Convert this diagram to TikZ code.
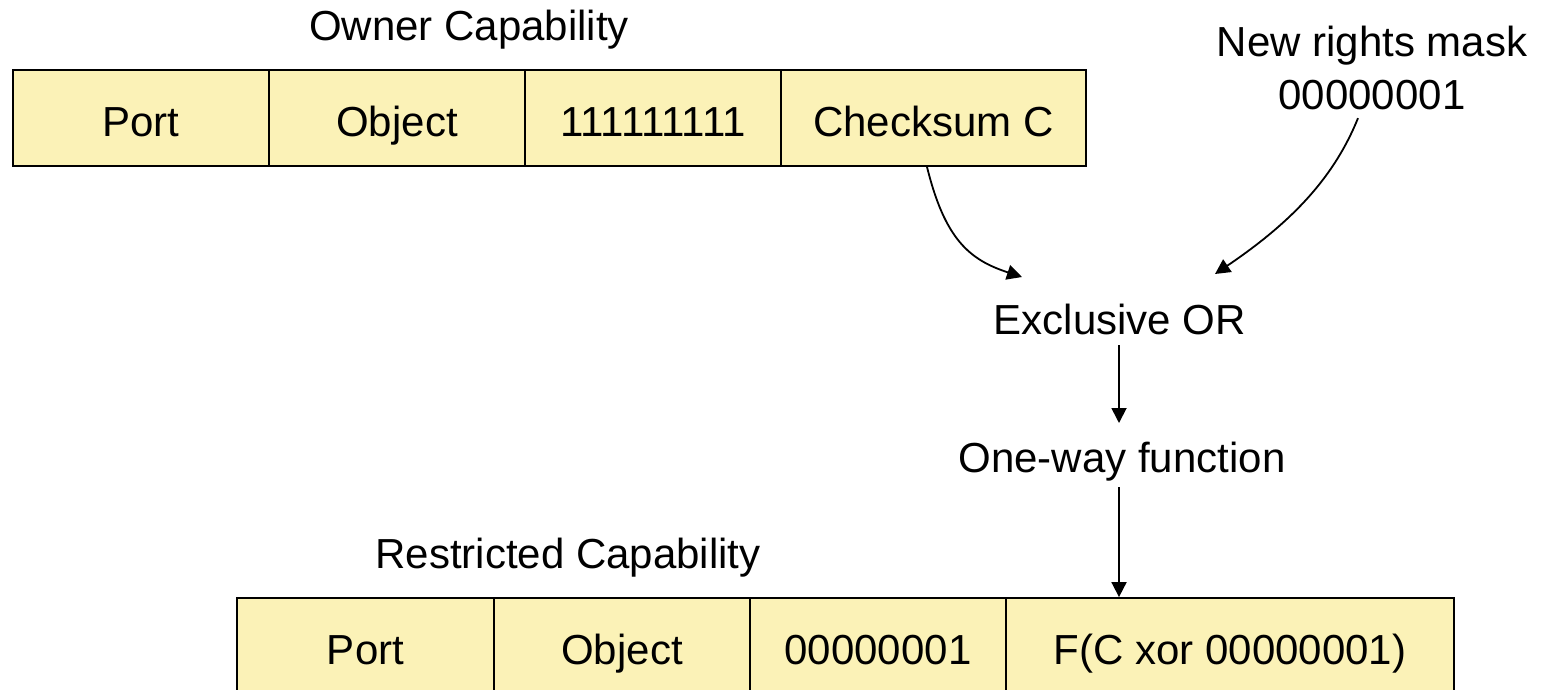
\documentclass[tikz,border=0pt]{standalone}
\usepackage{fontspec}
\setmainfont{Liberation Sans}
\usetikzlibrary{arrows.meta}
\definecolor{cellfill}{RGB}{251,242,183}
\tikzset{
  cell/.style={draw=black, fill=cellfill, line width=1.8pt, minimum height=96pt,
    inner sep=0pt, text height=36pt, text depth=0pt, font=\fontsize{42}{50}\selectfont},
  lbl/.style={inner sep=0pt, font=\fontsize{42}{50}\selectfont, align=center},
  conn/.style={line width=1.8pt, -{Triangle[length=15pt,width=15pt]}},
}
\begin{document}
\begin{tikzpicture}[x=1pt, y=1pt]
\useasboundingbox (0,0) rectangle (1546,-690);
% owner capability
\node[lbl] (ownt) at (469,-30) {Owner Capability};
\node[cell, minimum width=256pt] (op) at (141,-118) {Port};
\node[cell, minimum width=256pt] (oo) at (397,-118) {Object};
\node[cell, minimum width=256pt] (or) at (653,-118) {111111111};
\node[cell, minimum width=305pt] (oc) at (933.5,-118) {Checksum C};
% rights mask
\node[lbl] (mask) at (1372,-68) {New rights mask\\[3pt]00000001};
% processing steps
\node[lbl] (xor) at (1120,-319) {Exclusive OR};
\node[lbl] (owf) at (1122,-462) {One-way function};
\coordinate (xin1) at (1022,-277);
\coordinate (xin2) at (1215,-274);
% restricted capability
\node[lbl] (rest) at (568,-558) {Restricted Capability};
\node[cell, minimum width=257pt] (rp) at (365.5,-646) {Port};
\node[cell, minimum width=256pt] (ro) at (622,-646) {Object};
\node[cell, minimum width=256pt] (rr) at (878,-646) {00000001};
\node[cell, minimum width=448pt] (rc) at (1230,-646) {F(C xor 00000001)};
% connectors
\draw[conn] ([xshift=-6.5pt]oc.south) .. controls (945,-240) and (970,-260) .. (xin1);
\draw[conn] ([xshift=-14pt,yshift=-8pt]mask.south) .. controls (1335,-175) and (1295,-220) .. (xin2);
\draw[conn] (1119,-345) -- (1119,-423);
\draw[conn] (1119,-487) -- ([xshift=-111pt]rc.north);
\end{tikzpicture}
\end{document}
